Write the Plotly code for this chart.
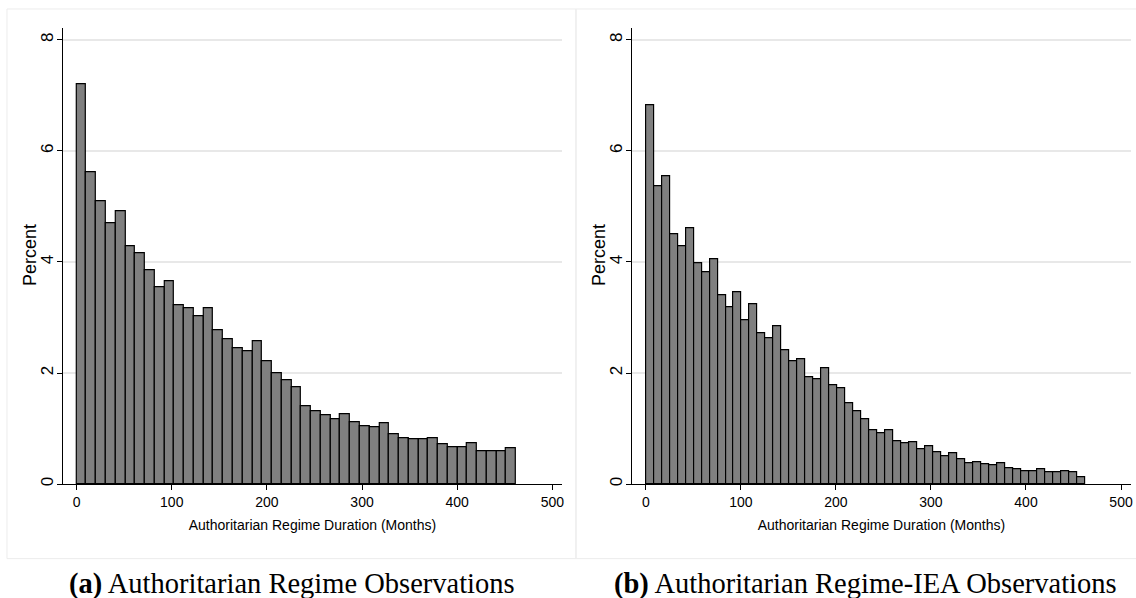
import numpy as np
import plotly.graph_objects as go

# ---- data (percent per bin) ----
max_duration = 462.0
left_nbins = 45
left_pct = [7.21, 5.61, 5.09, 4.70, 4.91, 4.29, 4.15, 3.86, 3.54, 3.66,
            3.22, 3.16, 3.02, 3.16, 2.78, 2.61, 2.45, 2.39, 2.57, 2.22,
            1.99, 1.87, 1.74, 1.41, 1.32, 1.24, 1.16, 1.26, 1.11, 1.04,
            1.02, 1.10, 0.89, 0.82, 0.81, 0.80, 0.83, 0.72, 0.66, 0.66,
            0.74, 0.59, 0.59, 0.59, 0.64]
right_nbins = 55
right_pct = [6.82, 5.36, 5.54, 4.50, 4.29, 4.61, 3.97, 3.82, 4.05, 3.40,
             3.18, 3.45, 2.96, 3.24, 2.72, 2.62, 2.84, 2.41, 2.22, 2.24,
             1.92, 1.89, 2.09, 1.78, 1.73, 1.45, 1.32, 1.17, 0.97, 0.91,
             0.97, 0.77, 0.74, 0.76, 0.62, 0.68, 0.58, 0.50, 0.56, 0.44,
             0.38, 0.40, 0.35, 0.34, 0.38, 0.28, 0.26, 0.23, 0.23, 0.26,
             0.21, 0.21, 0.23, 0.21, 0.13]
x_ticks = [0, 100, 200, 300, 400, 500]
y_ticks = [0, 2, 4, 6, 8]
x_title = "Authoritarian Regime Duration (Months)"
y_title = "Percent"
captions = ["<b>(a)</b> Authoritarian Regime Observations",
            "<b>(b)</b> Authoritarian Regime-IEA Observations"]

W, H = 1136, 598
SANS = "Liberation Sans, Arial, sans-serif"
SERIF = "Liberation Serif, Times New Roman, serif"


def centers(nbins):
    edges = np.linspace(0, max_duration, nbins + 1)
    return (edges[:-1] + edges[1:]) / 2, edges[1] - edges[0]


fig = go.Figure()
for i, (pct, nb) in enumerate([(left_pct, left_nbins), (right_pct, right_nbins)]):
    xc, bw = centers(nb)
    suffix = "" if i == 0 else "2"
    fig.add_trace(go.Bar(
        x=xc, y=pct, width=bw,
        marker=dict(color="#808080", line=dict(color="#000000", width=1.2)),
        xaxis="x" + suffix, yaxis="y" + suffix, showlegend=False,
    ))

ydom = [(H - 485.7) / H, (H - 28.3) / H]
xdoms = [[63 / W, 563 / W], [633.3 / W, 1132.7 / W]]

common_x = dict(
    range=[-14.4, 510.2], tickvals=x_ticks, ticks="outside", ticklen=5,
    tickcolor="#000", tickwidth=1, showline=True, linecolor="#000", linewidth=1,
    showgrid=False, zeroline=False, tickfont=dict(family=SANS, size=14, color="#000"),
    title=dict(text=x_title, font=dict(family=SANS, size=14, color="#000"), standoff=11),
    fixedrange=True,
)
common_y = dict(
    range=[0, 8.21], tickvals=y_ticks, ticks="outside", ticklen=5,
    tickcolor="#000", tickwidth=1, showline=True, linecolor="#000", linewidth=1,
    showgrid=True, gridcolor="#e8e8e8", gridwidth=1.5, zeroline=False,
    tickangle=-90, tickfont=dict(family=SANS, size=17, color="#000"),
    ticklabelstandoff=-3,
    fixedrange=True,
)

fig.update_layout(
    width=W, height=H, margin=dict(l=0, r=0, t=0, b=0),
    paper_bgcolor="white", plot_bgcolor="white", bargap=0,
    xaxis=dict(domain=xdoms[0], anchor="y", **common_x),
    yaxis=dict(domain=ydom, anchor="x", **common_y),
    xaxis2=dict(domain=xdoms[1], anchor="y2", **common_x),
    yaxis2=dict(domain=ydom, anchor="x2", **common_y),
)

# panel frames (light grey)
border = dict(color="#ececec", width=1)
fig.add_shape(type="rect", xref="paper", yref="paper",
              x0=7 / W, x1=577 / W, y0=(H - 560.5) / H, y1=(H - 9) / H, line=border)
fig.add_shape(type="rect", xref="paper", yref="paper",
              x0=577 / W, x1=1140 / W, y0=(H - 560.5) / H, y1=(H - 9) / H, line=border)

# y-axis titles (rotated)
for tx in [30, 600]:
    fig.add_annotation(text=y_title, xref="paper", yref="paper", x=tx / W, y=(H - 256) / H,
                       xanchor="center", yanchor="middle", showarrow=False, textangle=-90,
                       font=dict(family=SANS, size=18, color="#000"))

for cap, cx in zip(captions, [293, 867]):
    fig.add_annotation(text=cap, xref="paper", yref="paper", x=cx / W, y=(H - 586) / H,
                       xanchor="center", yanchor="middle", showarrow=False,
                       font=dict(family=SERIF, size=28.5, color="#000"))

fig.write_html("out.html")
